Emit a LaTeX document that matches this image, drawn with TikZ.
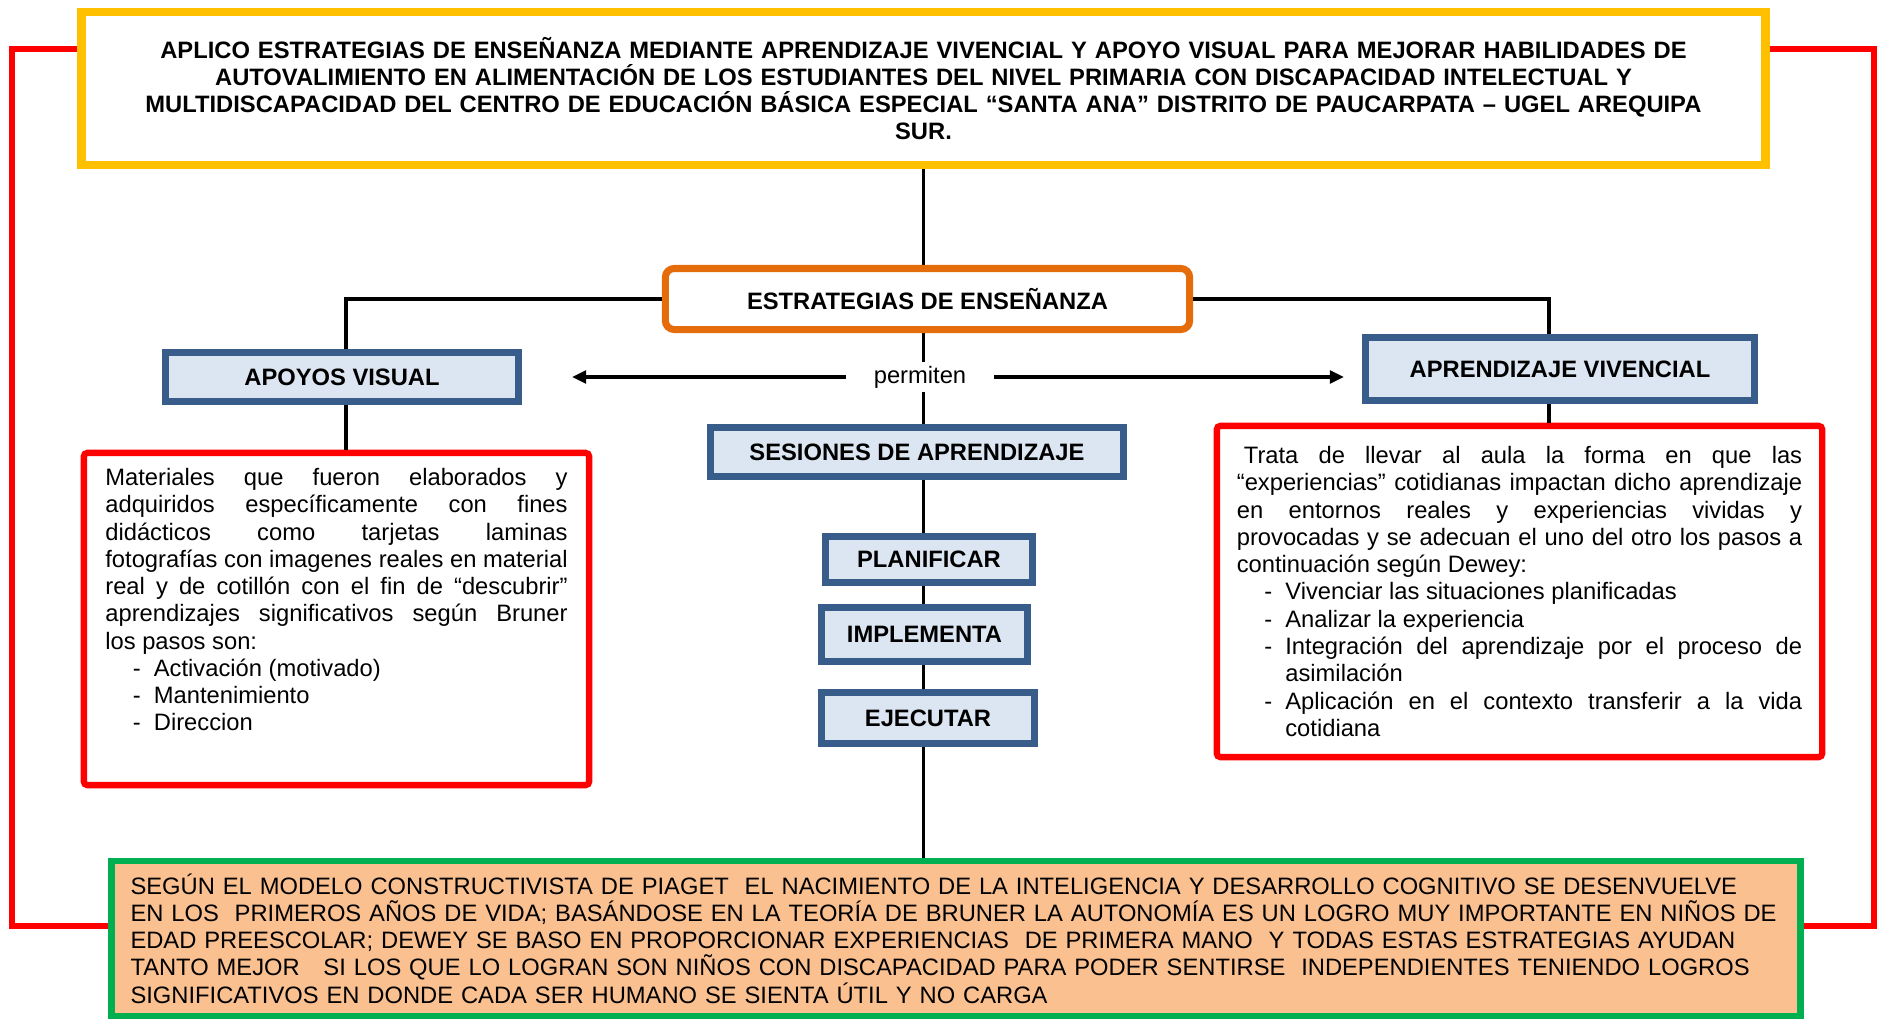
\documentclass[tikz,border=0pt]{standalone}
\usepackage{fontspec}
\setmainfont{Liberation Sans}
\usepackage{tikz}
\usetikzlibrary{arrows.meta, backgrounds}
\definecolor{amarillo}{RGB}{255, 192, 0}
\definecolor{naranja}{RGB}{228, 108, 10}
\definecolor{azulborde}{RGB}{56, 93, 138}
\definecolor{azulfondo}{RGB}{220, 230, 242}
\definecolor{rojo}{RGB}{255, 0, 0}
\definecolor{verde}{RGB}{0, 176, 80}
\definecolor{durazno}{RGB}{250, 192, 144}
\newcommand{\letra}{\fontsize{6.75}{7.75}\selectfont}
\newcommand{\paso}{\par\noindent\hangindent=13.8pt\hangafter=1\hspace*{7.8pt}\makebox[6pt][l]{-}}

\begin{document}
\begin{tikzpicture}[x=0.01cm, y=-0.01cm,
  every node/.style={font=\letra},
  titulo/.style={draw=amarillo, line width=2.3pt, fill=white, font=\letra\bfseries,
    align=center, text width=16.3cm, minimum width=16.83cm, minimum height=1.53cm},
  estrategia/.style={draw=naranja, line width=2pt, fill=white, rounded corners=2.5pt,
    font=\letra\bfseries, minimum width=5.24cm, minimum height=0.61cm},
  caja/.style={draw=azulborde, fill=azulfondo, line width=1.9pt, font=\letra\bfseries},
  marco/.style={draw=rojo, line width=1.8pt, rounded corners=1pt, align=justify},
  conector/.style={line width=0.9pt},
  flecha/.style={conector, -{Triangle[length=4pt, width=3.6pt]}},
  corchete/.style={draw=rojo, line width=1.6pt}]
  \useasboundingbox (0, 0) rectangle (1878, 1021);

  % Titulo
  \node [titulo] (title) at (923.5, 88.5) {APLICO ESTRATEGIAS DE ENSEÑANZA MEDIANTE APRENDIZAJE VIVENCIAL Y APOYO VISUAL PARA MEJORAR HABILIDADES DE\\
    AUTOVALIMIENTO EN ALIMENTACIÓN DE LOS ESTUDIANTES DEL NIVEL PRIMARIA CON DISCAPACIDAD INTELECTUAL Y\\
    MULTIDISCAPACIDAD DEL CENTRO DE EDUCACIÓN BÁSICA ESPECIAL “SANTA ANA” DISTRITO DE PAUCARPATA – UGEL AREQUIPA\\
    SUR.};
  \draw [amarillo, line width=0.6pt] ([shift={(7.5, 7.5)}]title.north west) rectangle ([shift={(-7.5, -7.5)}]title.south east);

  % Estrategias
  \node [estrategia] (estr) at (927.5, 299) {ESTRATEGIAS DE ENSEÑANZA};
  \node [caja, minimum width=3.53cm, minimum height=0.49cm] (apoyos) at (342, 377) {APOYOS VISUAL};
  \node [caja, minimum width=3.89cm, minimum height=0.63cm] (aprend) at (1560, 369) {APRENDIZAJE VIVENCIAL};
  \node [fill=white, inner sep=0, minimum width=1.47cm, minimum height=0.30cm] (permiten) at (920, 377) {permiten};
  \coordinate (tipL) at (572, 377);
  \coordinate (tipR) at (1344, 377);

  % Sesiones
  \node [caja, minimum width=4.13cm, minimum height=0.49cm] (sesiones) at (917, 452) {SESIONES DE APRENDIZAJE};
  \node [caja, minimum width=2.07cm, minimum height=0.46cm] (planif) at (929, 559.5) {PLANIFICAR};
  \node [caja, minimum width=2.06cm, minimum height=0.54cm] (implem) at (924.5, 634.5) {IMPLEMENTA};
  \node [caja, minimum width=2.13cm, minimum height=0.51cm] (ejec) at (928, 718) {EJECUTAR};

  % Apoyo visual
  \node [marco, text width=4.62cm, minimum width=5.05cm, minimum height=3.32cm] (lred) at (336.5, 619) {%
    Materiales que fueron elaborados y\linebreak
    adquiridos específicamente con fines\linebreak
    didácticos como tarjetas laminas\linebreak
    fotografías con imagenes reales en material\linebreak
    real y de cotillón con el fin de “descubrir”\linebreak
    aprendizajes significativos según Bruner\linebreak
    los pasos son:
    \paso Activación (motivado)
    \paso Mantenimiento
    \paso Direccion\rule[-11pt]{0pt}{0pt}\par};

  % Aprendizaje vivencial
  \node [marco, text width=5.65cm, minimum width=6.05cm, minimum height=3.31cm] (rred) at (1519.5, 591.5) {%
    \hspace*{2pt}Trata de llevar al aula la forma en que las\linebreak
    “experiencias” cotidianas impactan dicho aprendizaje\linebreak
    en entornos reales y experiencias vividas y\linebreak
    provocadas y se adecuan el uno del otro los pasos a\linebreak
    continuación según Dewey:
    \paso Vivenciar las situaciones planificadas
    \paso Analizar la experiencia
    \paso Integración del aprendizaje por el proceso de\linebreak asimilación
    \paso Aplicación en el contexto transferir a la vida\linebreak cotidiana\par};

  % Conclusion
  \node [draw=verde, fill=durazno, line width=1.8pt, align=left, text width=16.5cm,
    minimum width=16.88cm, minimum height=1.55cm] (green) at (956, 938.5) {%
    SEGÚN EL MODELO CONSTRUCTIVISTA DE PIAGET \ EL NACIMIENTO DE LA INTELIGENCIA Y DESARROLLO COGNITIVO SE DESENVUELVE\\
    EN LOS \ PRIMEROS AÑOS DE VIDA; BASÁNDOSE EN LA TEORÍA DE BRUNER LA AUTONOMÍA ES UN LOGRO MUY IMPORTANTE EN NIÑOS DE\\
    EDAD PREESCOLAR; DEWEY SE BASO EN PROPORCIONAR EXPERIENCIAS \ DE PRIMERA MANO \ Y TODAS ESTAS ESTRATEGIAS AYUDAN\\
    TANTO MEJOR \ \ SI LOS QUE LO LOGRAN SON NIÑOS CON DISCAPACIDAD PARA PODER SENTIRSE \ INDEPENDIENTES TENIENDO LOGROS\\
    SIGNIFICATIVOS EN DONDE CADA SER HUMANO SE SIENTA ÚTIL Y NO CARGA};
  \coordinate (lb) at (12, 926);
  \coordinate (rb) at (1874, 926);

  % Conectores
  \draw [conector] (estr.west) -| ([shift={(4, 0)}]apoyos.north);
  \draw [conector] (estr.east) -| ([shift={(-11, 0)}]aprend.north);
  \draw [conector] ([shift={(4, 0)}]apoyos.south) -- ([shift={(4, 0)}]apoyos.south |- lred.north);
  \draw [conector] ([shift={(-11, 0)}]aprend.south) -- ([shift={(-11, 0)}]aprend.south |- rred.north);
  \draw [flecha] (permiten.west) -- (tipL);
  \draw [flecha] (permiten.east) -- (tipR);
  \begin{scope}[on background layer]
    \draw [conector] (title.south) -- (title.south |- green.north);
  \end{scope}

  % Corchetes
  \draw [corchete] ([shift={(0, -39.5)}]title.west) -| (lb) -- (lb -| green.west);
  \draw [corchete] ([shift={(0, -39.5)}]title.east) -| (rb) -- (rb -| green.east);

\end{tikzpicture}
\end{document}
